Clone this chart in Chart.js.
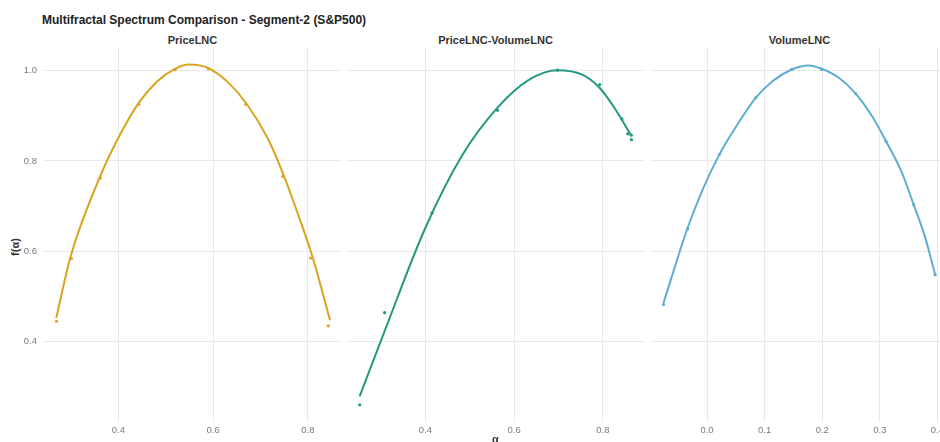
<!DOCTYPE html>
<html>
<head>
<meta charset="utf-8">
<script src="https://cdn.jsdelivr.net/npm/chart.js@4/dist/chart.umd.min.js"></script>
<style>
html,body{margin:0;padding:0;background:#fff;width:940px;height:442px;overflow:hidden;}
#wrap{position:relative;width:940px;height:442px;overflow:hidden;font-family:"Liberation Sans",Arial,sans-serif;}
.title{position:absolute;left:42px;top:12px;font-weight:bold;font-size:12px;color:#222;white-space:nowrap;line-height:16px;}
.strip{position:absolute;top:33px;font-weight:bold;font-size:11px;color:#333;text-align:center;line-height:14px;white-space:nowrap;}
.ytitle{position:absolute;left:-5px;top:240px;width:40px;height:14px;line-height:14px;text-align:center;font-weight:bold;font-size:11px;color:#333;transform:rotate(-90deg);}
.panel{position:absolute;top:0;}
</style>
</head>
<body>
<div id="wrap">
  <div class="title" id="mainTitle"></div>
  <div class="ytitle" id="yTitle"></div>
  <div class="strip" id="s0"></div>
  <div class="strip" id="s1"></div>
  <div class="strip" id="s2"></div>
  <canvas class="panel" id="c0" width="342" height="460" style="left:0px"></canvas>
  <canvas class="panel" id="c1" width="299" height="460" style="left:346px"></canvas>
  <canvas class="panel" id="c2" width="299" height="460" style="left:650px"></canvas>
</div>
<script>
// ---- data ----
const chartTitle = 'Multifractal Spectrum Comparison - Segment-2 (S&P500)';
const panelNames = ['PriceLNC', 'PriceLNC-VolumeLNC', 'VolumeLNC'];
const xAxisTitle = 'α';
const yAxisTitle = 'f(α)';

// PriceLNC
const priceAlpha = [0.2695, 0.301, 0.362, 0.443, 0.520, 0.590, 0.669, 0.747, 0.806, 0.843];
const priceF     = [0.445, 0.584, 0.762, 0.925, 1.002, 1.004, 0.925, 0.766, 0.585, 0.435];
const priceCurveAlpha = [0.269, 0.2994, 0.361, 0.393, 0.4426, 0.4817, 0.5206, 0.549, 0.5738, 0.5915, 0.6306, 0.6717, 0.7157, 0.7498, 0.7866, 0.8094, 0.8468];
const priceCurveF     = [0.4525, 0.589, 0.7645, 0.837, 0.928, 0.976, 1.0045, 1.0135, 1.011, 1.005, 0.975, 0.925, 0.849, 0.766, 0.660, 0.589, 0.447];

// PriceLNC-VolumeLNC
const crossAlpha = [0.252, 0.308, 0.415, 0.5625, 0.698, 0.793, 0.843, 0.856, 0.864, 0.8645];
const crossF     = [0.260, 0.464, 0.685, 0.912, 1.001, 0.969, 0.893, 0.860, 0.857, 0.847];
const crossCurveAlpha = [0.2517, 0.3079, 0.400, 0.484, 0.5625, 0.634, 0.698, 0.7535, 0.7925, 0.8285, 0.8645];
const crossCurveF     = [0.2789, 0.4228, 0.652, 0.814, 0.918, 0.980, 1.001, 0.991, 0.962, 0.914, 0.855];

// VolumeLNC
const volAlpha = [-0.0756, -0.0336, 0.0213, 0.0848, 0.147, 0.199, 0.258, 0.3107, 0.3587, 0.396];
const volF     = [0.482, 0.6496, 0.814, 0.940, 1.0025, 1.0025, 0.949, 0.8436, 0.703, 0.548];
const volCurveAlpha = [-0.0756, -0.0336, -0.0076, 0.0213, 0.0502, 0.0848, 0.1135, 0.147, 0.177, 0.199, 0.2289, 0.258, 0.2865, 0.3107, 0.3384, 0.3587, 0.3789, 0.396];
const volCurveF     = [0.4855, 0.652, 0.7366, 0.814, 0.8755, 0.940, 0.9765, 1.0025, 1.0113, 1.004, 0.984, 0.949, 0.899, 0.8436, 0.7736, 0.703, 0.6297, 0.548];

// tick labels
const yTickValues = [0.4, 0.6, 0.8, 1.0];
const xTicksPrice = [0.4, 0.6, 0.8];
const xTicksCross = [0.4, 0.6, 0.8];
const xTicksVol   = [0.0, 0.1, 0.2, 0.3, 0.4];

// ---- layout / style ----
const colors = ['#D9A521', '#23997F', '#5EADD1'];
const xLimits = [[0.241, 0.872], [0.221, 0.895], [-0.099, 0.42]];
const yLimits = [0.222, 1.050];
const gridColor = '#e9e9e9';
const tickColor = '#7a7a7a';
const FONT = '"Liberation Sans", Arial, sans-serif';

document.getElementById('mainTitle').textContent = chartTitle;
document.getElementById('yTitle').textContent = yAxisTitle;
const stripPos = [[43, 299], [346, 299], [650, 299]];
panelNames.forEach((n, i) => {
  const el = document.getElementById('s' + i);
  el.textContent = n;
  el.style.left = stripPos[i][0] + 'px';
  el.style.width = stripPos[i][1] + 'px';
});

function pts(xs, ys) { return xs.map((x, i) => ({x: x, y: ys[i]})); }

const panels = [
  {pa: priceAlpha, pf: priceF, ca: priceCurveAlpha, cf: priceCurveF, ticks: xTicksPrice},
  {pa: crossAlpha, pf: crossF, ca: crossCurveAlpha, cf: crossCurveF, ticks: xTicksCross},
  {pa: volAlpha, pf: volF, ca: volCurveAlpha, cf: volCurveF, ticks: xTicksVol}
];

panels.forEach((p, i) => {
  const col = colors[i];
  new Chart(document.getElementById('c' + i), {
    type: 'scatter',
    data: {
      datasets: [
        {
          label: panelNames[i] + ' fit',
          data: pts(p.ca, p.cf),
          showLine: true,
          borderColor: col,
          borderWidth: 2,
          pointRadius: 0,
          cubicInterpolationMode: 'monotone',
          fill: false,
          order: 2
        },
        {
          label: panelNames[i],
          data: pts(p.pa, p.pf),
          showLine: false,
          backgroundColor: col,
          borderColor: col,
          pointRadius: 1.6,
          borderWidth: 0,
          order: 1
        }
      ]
    },
    options: {
      responsive: false,
      animation: false,
      devicePixelRatio: 1,
      layout: {autoPadding: false, padding: {top: 48, left: 0, right: 0, bottom: 0}},
      plugins: {legend: {display: false}, tooltip: {enabled: false}, title: {display: false}},
      scales: {
        x: {
          type: 'linear',
          min: xLimits[i][0],
          max: xLimits[i][1],
          afterBuildTicks: s => { s.ticks = p.ticks.map(v => ({value: v})); },
          afterFit: s => { s.height = 38; },
          grid: {color: gridColor, lineWidth: 1, drawTicks: false},
          border: {display: false},
          ticks: {
            color: tickColor, padding: 3, maxRotation: 0, autoSkip: false,
            font: {family: FONT, size: 9.5},
            callback: v => Number(v).toFixed(1)
          },
          title: {
            display: i === 1,
            text: xAxisTitle,
            color: '#333',
            font: {family: FONT, size: 11, weight: 'bold'},
            padding: {top: 0, bottom: 13}
          }
        },
        y: {
          type: 'linear',
          min: yLimits[0],
          max: yLimits[1],
          afterBuildTicks: s => { s.ticks = yTickValues.map(v => ({value: v})); },
          afterFit: s => { s.width = (i === 0) ? 43 : 0; },
          grid: {color: gridColor, lineWidth: 1, drawTicks: false},
          border: {display: false},
          ticks: {
            display: i === 0,
            color: tickColor, padding: 6,
            font: {family: FONT, size: 9.5},
            callback: v => Number(v).toFixed(1)
          }
        }
      }
    }
  });
});
</script>
</body>
</html>
